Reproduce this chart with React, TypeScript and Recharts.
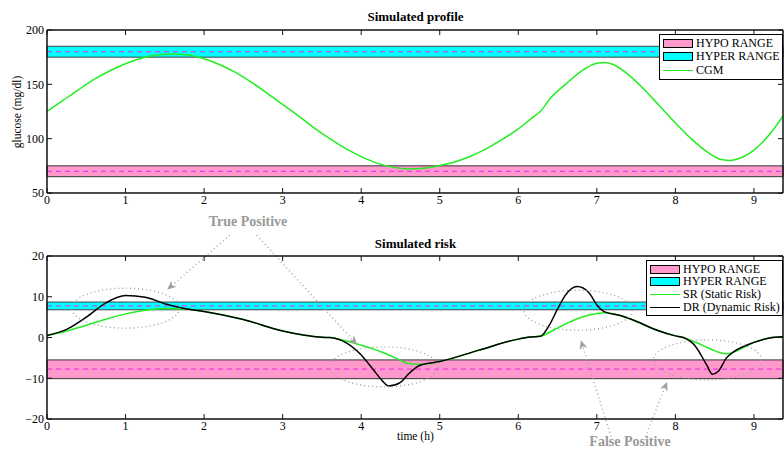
import React from "react";
import {
  LineChart,
  Line,
  XAxis,
  YAxis,
  ReferenceArea,
  ReferenceLine,
  ReferenceDot,
} from "recharts";

const FONT = '"Liberation Serif", "Times New Roman", serif';

// top panel: CGM profile
const CGM_TIME = [
  0, 0.2, 0.4, 0.6, 0.8, 1.0, 1.2, 1.4, 1.6, 1.8, 2.0, 2.2, 2.4, 2.6, 2.8, 3.0,
  3.2, 3.4, 3.6, 3.8, 4.0, 4.2, 4.4, 4.6, 4.8, 5.0, 5.2, 5.4, 5.6, 5.8, 6.0, 6.2,
  6.28, 6.4, 6.6, 6.8, 7.0, 7.1, 7.2, 7.4, 7.6, 7.8, 8.0, 8.2, 8.4, 8.6, 8.7,
  8.8, 9.0, 9.2, 9.37,
];
const CGM = [
  125, 135, 145, 154.5, 162.5, 169, 174, 177, 178, 177, 173.5, 168, 161, 152,
  142, 131.5, 121, 110, 100, 91, 83.5, 77.5, 73.8, 72.2, 72.8, 75.3, 78.8, 84,
  91, 99.5, 109, 120.5, 125, 136.5, 150, 162, 169.5, 170, 168.5, 159, 145.5,
  130, 114.5, 100, 88, 80.5, 80, 81.5, 89.5, 104, 121,
];

// bottom panel: risk
const RISK_TIME = [
  0, 0.25, 0.5, 0.75, 1, 1.25, 1.5, 1.75, 2, 2.5, 3, 3.3, 3.5, 3.6, 3.8, 4, 4.15,
  4.25, 4.35, 4.5, 4.6, 4.75, 5, 5.5, 6, 6.15, 6.28, 6.4, 6.5, 6.6, 6.75, 6.9, 7,
  7.1, 7.3, 7.5, 7.75, 8, 8.1, 8.25, 8.4, 8.47, 8.55, 8.65, 8.75, 9, 9.2, 9.37,
];
const SR = [
  0.5, 1.6, 3.0, 4.5, 5.8, 6.7, 7.1, 7.0, 6.4, 4.4, 1.6, 0.5, 0.05, 0, -0.8,
  -1.9, -2.8, -3.5, -4.3, -5.6, -6.4, -6.6, -5.9, -3.1, -0.4, 0.1, 0.3, 1.3, 2.3,
  3.3, 4.6, 5.5, 5.9, 6.1, 5.4, 4.0, 1.9, 0.4, 0, -1.1, -2.4, -3.0, -3.6, -4.0,
  -3.5, -1.2, -0.1, 0.2,
];
const DR = [
  0.5, 2.0, 5.0, 8.5, 10.3, 9.9, 8.3, 7.1, 6.4, 4.4, 1.6, 0.5, 0.05, 0, -1.2,
  -4.3, -7.8, -10.2, -11.9, -11.0, -9.0, -6.8, -5.9, -3.1, -0.4, 0.1, 0.3, 3.2,
  7.0, 10.4, 12.5, 11.0, 8.0, 6.3, 5.4, 4.0, 1.9, 0.4, 0, -2.0, -6.8, -9.0, -8.2,
  -5.0, -3.4, -1.2, -0.1, 0.2,
];

const X_MAX = 9.37;
const X_TICKS = [0, 1, 2, 3, 4, 5, 6, 7, 8, 9];
const GLU_TICKS = [50, 100, 150, 200];
const RISK_TICKS = [-20, -10, 0, 10, 20];

const HYPO_GLU = [65, 75, 70];
const HYPER_GLU = [175, 185, 180];
const HYPO_RISK = [-10.1, -5.5, -7.75];
const HYPER_RISK = [6.8, 8.7, 7.75];

// annotation ellipses (centers) and arrows (start -> end), in data units
const ELLIPSES = [
  { x: 1.0, y: 7.2 },
  { x: 4.29, y: -7.2 },
  { x: 6.76, y: 6.7 },
  { x: 8.41, y: -5.5 },
];
const ARROWS = [
  [{ x: 2.325, y: 25.1 }, { x: 1.54, y: 11.9 }],
  [{ x: 2.67, y: 25.1 }, { x: 3.94, y: -1.6 }],
  [{ x: 7.18, y: -24.3 }, { x: 6.8, y: -0.9 }],
  [{ x: 7.62, y: -24.3 }, { x: 7.89, y: -11.1 }],
];

const PINK = "#ff99cc";
const CYAN = "#00ffff";
const GREEN = "#22ee22";
const GRAY = "#a0a0a0";

const profileData = CGM_TIME.map((t, i) => ({ t, cgm: CGM[i] }));
const riskData = RISK_TIME.map((t, i) => ({ t, sr: SR[i], dr: DR[i] }));

const minus = (v: number) => String(v).replace("-", "\u2212");
const tickStyle = { fontSize: 12, fill: "#000", fontFamily: FONT };
const axisLine = { stroke: "#111", strokeWidth: 1.5 };

const Ellipse = (p: any) => (
  <ellipse
    cx={p.cx}
    cy={p.cy}
    rx={54}
    ry={20}
    fill="none"
    stroke={GRAY}
    strokeWidth={1.4}
    strokeDasharray="1 3"
  />
);

const Arrow = (p: any) => (
  <line
    x1={p.x1}
    y1={p.y1}
    x2={p.x2}
    y2={p.y2}
    stroke={GRAY}
    strokeWidth={1.4}
    strokeDasharray="1 3"
    markerEnd="url(#arrowHead)"
  />
);

function bands(hypo: number[], hyper: number[]) {
  return [
    <ReferenceArea key="hypo" x1={0} x2={X_MAX} y1={hypo[0]} y2={hypo[1]} fill={PINK} fillOpacity={1} stroke="#333" strokeWidth={1} />,
    <ReferenceArea key="hyper" x1={0} x2={X_MAX} y1={hyper[0]} y2={hyper[1]} fill={CYAN} fillOpacity={1} stroke="#444" strokeWidth={1} />,
    <ReferenceLine key="hypoL" y={hypo[2]} stroke="#ee22ee" strokeDasharray="5 4" />,
    <ReferenceLine key="hyperL" y={hyper[2]} stroke="#ee22ee" strokeDasharray="5 4" />,
  ];
}

function axes(domain: number[], ticks: number[]) {
  return [
    <XAxis key="xb" dataKey="t" type="number" domain={[0, X_MAX]} ticks={X_TICKS} allowDataOverflow height={20} tickSize={-5} tickMargin={7} tick={tickStyle} axisLine={axisLine} stroke="#111" interval={0} />,
    <XAxis key="xt" xAxisId="top" orientation="top" dataKey="t" type="number" domain={[0, X_MAX]} ticks={X_TICKS} allowDataOverflow height={1} tickSize={-5} tickFormatter={() => ""} axisLine={axisLine} stroke="#111" interval={0} />,
    <YAxis key="yl" type="number" domain={domain} ticks={ticks} width={47} tickSize={-5} tickMargin={8} tick={tickStyle} tickFormatter={minus} axisLine={axisLine} stroke="#111" interval={0} />,
    <YAxis key="yr" yAxisId="right" orientation="right" type="number" domain={domain} ticks={ticks} width={1} tickSize={-5} tickFormatter={() => ""} axisLine={axisLine} stroke="#111" interval={0} />,
  ];
}

function LegendBox({ style, rowH, items }: { style: React.CSSProperties; rowH: number; items: { label: string; kind: string; color: string }[] }) {
  return (
    <div
      style={{
        position: "absolute",
        boxSizing: "border-box",
        background: "#fff",
        border: "1px solid #000",
        fontFamily: FONT,
        fontSize: 12,
        padding: "2px 0 2px 3px",
        ...style,
      }}
    >
      {items.map((it) => (
        <div key={it.label} style={{ display: "flex", alignItems: "center", height: rowH, whiteSpace: "nowrap" }}>
          {it.kind === "patch" ? (
            <span style={{ width: 30, height: 9, background: it.color, border: "1px solid #000", marginRight: 3, boxSizing: "border-box", flex: "none" }} />
          ) : (
            <span style={{ width: 30, height: 0, borderTop: `1.5px solid ${it.color}`, marginRight: 3, flex: "none" }} />
          )}
          {it.label}
        </div>
      ))}
    </div>
  );
}

const titleStyle: React.CSSProperties = {
  position: "absolute",
  left: 47,
  width: 737,
  textAlign: "center",
  fontFamily: FONT,
  fontWeight: "bold",
  fontSize: 13,
};

const noteStyle: React.CSSProperties = {
  position: "absolute",
  fontFamily: FONT,
  fontWeight: "bold",
  fontSize: 14,
  color: "#999",
  width: 130,
  textAlign: "center",
};

export default function App() {
  return (
    <div style={{ position: "relative", width: 784, height: 450, background: "#fff", overflow: "hidden" }}>
      <style>{"body{margin:0}"}</style>
      <svg width={0} height={0} style={{ position: "absolute" }}>
        <defs>
          <marker id="arrowHead" viewBox="0 0 10 10" refX={9} refY={5} markerWidth={9} markerHeight={9} markerUnits="userSpaceOnUse" orient="auto">
            <path d="M0,0.5 L10,5 L0,9.5 L3,5 z" fill={GRAY} />
          </marker>
        </defs>
      </svg>

      <div style={{ ...titleStyle, top: 9 }}>Simulated profile</div>
      <div
        style={{
          position: "absolute",
          left: 17,
          top: 112,
          transform: "translate(-50%, -50%) rotate(-90deg)",
          fontFamily: FONT,
          fontSize: 11.5,
          whiteSpace: "nowrap",
        }}
      >
        glucose (mg/dl)
      </div>
      <div style={{ position: "absolute", left: 0, top: 0 }}>
        <LineChart width={784} height={230} data={profileData} margin={{ top: 29, right: 0, bottom: 17, left: 0 }}>
          {axes([50, 200], GLU_TICKS)}
          {bands(HYPO_GLU, HYPER_GLU)}
          <Line dataKey="cgm" stroke={GREEN} strokeWidth={1.5} dot={false} isAnimationActive={false} type="monotone" />
          <Line dataKey="cgm" xAxisId="top" yAxisId="right" stroke="none" dot={false} isAnimationActive={false} legendType="none" />
        </LineChart>
      </div>

      <div style={{ ...titleStyle, top: 236 }}>Simulated risk</div>
      <div style={{ position: "absolute", left: 0, top: 230 }}>
        <LineChart width={784} height={220} data={riskData} margin={{ top: 25, right: 0, bottom: 11, left: 0 }}>
          {axes([-20, 20], RISK_TICKS)}
          {bands(HYPO_RISK, HYPER_RISK)}
          <Line dataKey="sr" stroke={GREEN} strokeWidth={1.5} dot={false} isAnimationActive={false} type="monotone" />
          <Line dataKey="dr" stroke="#000" strokeWidth={1.5} dot={false} isAnimationActive={false} type="monotone" />
          <Line dataKey="sr" xAxisId="top" yAxisId="right" stroke="none" dot={false} isAnimationActive={false} legendType="none" />
          {ELLIPSES.map((e, i) => (
            <ReferenceDot key={"e" + i} x={e.x} y={e.y} ifOverflow="visible" shape={Ellipse} />
          ))}
          {ARROWS.map((a, i) => (
            <ReferenceLine key={"a" + i} segment={a} ifOverflow="visible" shape={Arrow} />
          ))}
        </LineChart>
      </div>

      <div style={{ position: "absolute", left: 397, top: 430, fontFamily: FONT, fontSize: 11.5 }}>time (h)</div>
      <div style={{ ...noteStyle, left: 183, top: 214 }}>True Positive</div>
      <div style={{ ...noteStyle, left: 565, top: 434 }}>False Positive</div>

      <LegendBox
        style={{ left: 659, top: 34, width: 124 }}
        rowH={13.3}
        items={[
          { label: "HYPO RANGE", kind: "patch", color: PINK },
          { label: "HYPER RANGE", kind: "patch", color: CYAN },
          { label: "CGM", kind: "line", color: GREEN },
        ]}
      />
      <LegendBox
        style={{ left: 646, top: 260, width: 137 }}
        rowH={12.6}
        items={[
          { label: "HYPO RANGE", kind: "patch", color: PINK },
          { label: "HYPER RANGE", kind: "patch", color: CYAN },
          { label: "SR (Static Risk)", kind: "line", color: GREEN },
          { label: "DR (Dynamic Risk)", kind: "line", color: "#000" },
        ]}
      />
    </div>
  );
}
